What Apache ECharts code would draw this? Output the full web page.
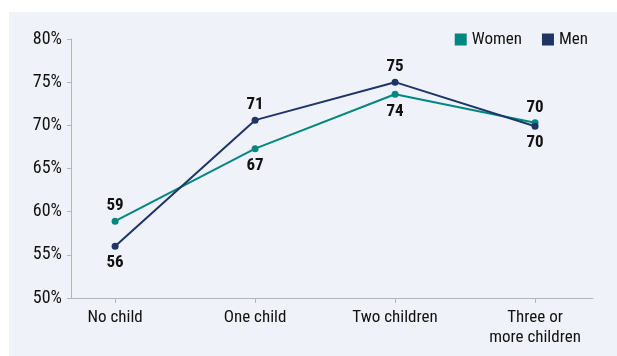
<!DOCTYPE html>
<html>
<head>
<meta charset="utf-8">
<script src="https://cdn.jsdelivr.net/npm/echarts@6/dist/echarts.min.js"></script>
<style>
  html, body { margin: 0; padding: 0; background: #fff; }
  #chart { width: 617px; height: 356px; }
</style>
</head>
<body>
<div id="chart"></div>
<script>
// data
const categories = ['No child', 'One child', 'Two children', 'Three or\nmore children'];
const women = [58.9, 67.3, 73.6, 70.3];
const men = [56.0, 70.6, 75.0, 69.9];
// label above (true) or below (false) each point
const womenLabelTop = [true, false, false, true];
const menLabelTop = [false, true, true, false];
const yTicks = [50, 55, 60, 65, 70, 75, 80];

const FONT = '"Liberation Sans Narrow", "Roboto Condensed", Roboto, sans-serif';
const TEAL = '#00877f';
const NAVY = '#1f3566';

function pts(vals, tops) {
    return vals.map(function (v, i) {
        return {
            value: [i, v],
            label: { position: tops[i] ? 'top' : 'bottom', distance: tops[i] ? 3 : 5 }
        };
    });
}

let myChart = echarts.init(document.getElementById('chart'));
let option = {
    animation: false,
    backgroundColor: '#ffffff',
    textStyle: { fontFamily: FONT, color: '#111' },
    graphic: [{
        type: 'rect',
        z: -10,
        shape: { x: 9, y: 12, width: 620, height: 350 },
        style: { fill: '#eff2f8' }
    }],
    legend: {
        right: 24,
        top: 26,
        itemWidth: 12,
        itemHeight: 12,
        itemGap: 20,
        icon: 'rect',
        textStyle: { fontFamily: FONT, fontSize: 17, color: '#111' },
        data: ['Women', 'Men']
    },
    grid: { left: 71, right: 24, top: 39, bottom: 58 },
    xAxis: {
        type: 'value',
        min: -0.315,
        max: 3.414,
        splitLine: { show: false },
        axisLine: { show: true, onZero: false, lineStyle: { color: '#b5b5b5', width: 1 } },
        axisTick: { show: true, customValues: [0, 1, 2, 3], length: 5, lineStyle: { color: '#b5b5b5' } },
        axisLabel: {
            customValues: [0, 1, 2, 3],
            formatter: function (v) { return categories[Math.round(v)]; },
            fontFamily: FONT,
            fontSize: 17,
            color: '#111',
            lineHeight: 20,
            margin: 10
        }
    },
    yAxis: {
        type: 'value',
        min: 50,
        max: 80,
        interval: 5,
        splitLine: { show: false },
        axisLine: { show: true, onZero: false, lineStyle: { color: '#b5b5b5', width: 1 } },
        axisTick: { show: true, length: 4, lineStyle: { color: '#b5b5b5' } },
        axisLabel: {
            formatter: function (v) { return yTicks.indexOf(v) >= 0 ? v + '%' : ''; },
            fontFamily: FONT,
            fontSize: 18,
            color: '#111',
            margin: 9
        }
    },
    series: [
        {
            name: 'Women',
            type: 'line',
            color: TEAL,
            symbol: 'circle',
            symbolSize: 7,
            lineStyle: { width: 2 },
            label: {
                show: true,
                fontFamily: FONT,
                fontSize: 17,
                fontWeight: 'bold',
                color: '#111',
                formatter: function (p) { return Math.round(p.value[1]); }
            },
            data: pts(women, womenLabelTop)
        },
        {
            name: 'Men',
            type: 'line',
            color: NAVY,
            symbol: 'circle',
            symbolSize: 7,
            lineStyle: { width: 2 },
            label: {
                show: true,
                fontFamily: FONT,
                fontSize: 17,
                fontWeight: 'bold',
                color: '#111',
                formatter: function (p) { return Math.round(p.value[1]); }
            },
            data: pts(men, menLabelTop)
        }
    ]
};
option && myChart.setOption(option);
</script>
</body>
</html>
